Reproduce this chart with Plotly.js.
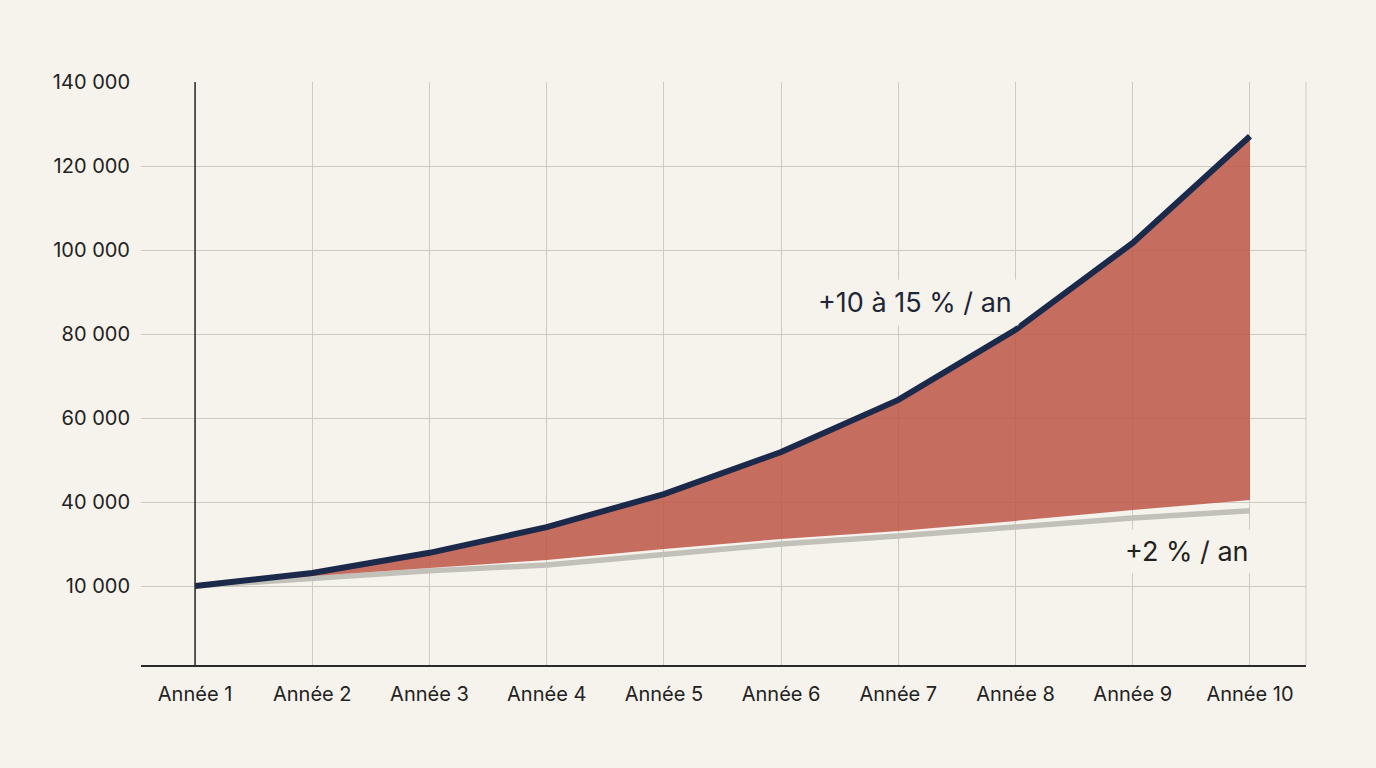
<!DOCTYPE html>
<html>
<head>
<meta charset="utf-8">
<script src="https://cdn.plot.ly/plotly-3.0.1.min.js"></script>
<style>
  html, body { margin: 0; padding: 0; background: #f6f3ec; }
  #chart { width: 1376px; height: 768px; }
</style>
</head>
<body>
<div id="chart"></div>
<script>
// years on the x axis
const years = [1, 2, 3, 4, 5, 6, 7, 8, 9, 10];
const yearLabels = ["Année 1", "Année 2", "Année 3", "Année 4", "Année 5",
                    "Année 6", "Année 7", "Année 8", "Année 9", "Année 10"];

// fast growth line (+10 à 15 % / an) in axis units
const fastGrowth = [20000, 23100, 27900, 34000, 41900, 51900, 64300, 81000, 101700, 127100];
// slow growth line (+2 % / an)
const slowGrowth = [20000, 21900, 23600, 25000, 27600, 30000, 31900, 34000, 36200, 37900];
// lower edge of the red band (sits just above the grey line)
const bandBase = [20000, 22400, 24300, 26200, 28800, 31200, 33100, 35500, 38100, 40500];

// y ticks (note the bottom label reads 10 000 in the source)
const yTickVals = [20000, 40000, 60000, 80000, 100000, 120000, 140000];
const yTickText = ["10 000", "40 000", "60 000", "80 000", "100 000", "120 000", "140 000"];

const bg = "#f6f3ec";
const gridCol = "#cfcac0";
const navy = "#1b2a4a";

const traces = [
  {
    x: years, y: slowGrowth, mode: "lines", type: "scatter",
    line: { color: "#c2c1b9", width: 5.5 }, hoverinfo: "skip"
  },
  {
    x: years, y: bandBase, mode: "lines", type: "scatter",
    line: { color: "rgba(0,0,0,0)", width: 0 }, hoverinfo: "skip"
  },
  {
    x: years, y: fastGrowth, mode: "lines", type: "scatter",
    fill: "tonexty", fillcolor: "rgba(189,88,73,0.87)",
    line: { color: navy, width: 6 }, hoverinfo: "skip"
  }
];

const layout = {
  width: 1376, height: 768,
  paper_bgcolor: bg, plot_bgcolor: bg,
  showlegend: false,
  margin: { l: 141, r: 70, t: 82, b: 103 },
  font: { family: "Inter, 'Noto Sans', sans-serif", color: "#222", size: 20 },
  xaxis: {
    range: [0.539, 10.478],
    tickvals: years, ticktext: yearLabels,
    showgrid: true, gridcolor: gridCol, gridwidth: 1,
    zeroline: false,
    showline: true, linecolor: "#2a2a2a", linewidth: 1.5,
    ticks: "", ticklabelstandoff: 10,
    tickfont: { size: 20, color: "#222" }
  },
  yaxis: {
    range: [1190, 140000],
    tickvals: yTickVals, ticktext: yTickText,
    showgrid: true, gridcolor: gridCol, gridwidth: 1,
    zeroline: false, showline: false,
    ticks: "", ticklabelstandoff: 10,
    tickfont: { size: 20, color: "#222" }
  },
  shapes: [
    // dark vertical axis at Année 1
    { type: "line", xref: "x", yref: "paper", x0: 1, x1: 1, y0: 0, y1: 1,
      line: { color: "#2a2a2a", width: 1.5 } },
    // right border grid line
    { type: "line", xref: "paper", yref: "paper", x0: 1, x1: 1, y0: 0, y1: 1,
      line: { color: gridCol, width: 1 } }
  ],
  annotations: [
    { x: 7.14, y: 87400, xref: "x", yref: "y", text: "+10 à 15 % / an",
      showarrow: false, bgcolor: bg, borderpad: 6,
      font: { size: 27, color: "#1e2638" } },
    { x: 9.46, y: 28300, xref: "x", yref: "y", text: "+2 % / an",
      showarrow: false, bgcolor: bg, borderpad: 5,
      font: { size: 27, color: "#222" } }
  ]
};

Plotly.newPlot("chart", traces, layout, { displayModeBar: false, staticPlot: true });
</script>
</body>
</html>
